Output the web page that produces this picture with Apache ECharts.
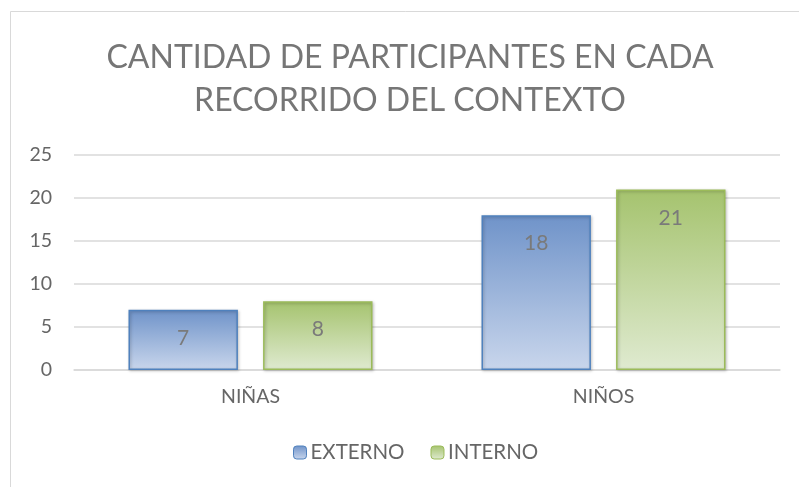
<!DOCTYPE html>
<html>
<head>
<meta charset="utf-8">
<script src="https://cdn.jsdelivr.net/npm/echarts@6/dist/echarts.min.js"></script>
<style>
  html, body { margin: 0; padding: 0; background: #fff; }
  #main { width: 799px; height: 487px; }
</style>
</head>
<body>
<div id="main"></div>
<script>
var categories = ['NIÑAS', 'NIÑOS'];
var externo = [7, 18];
var interno = [8, 21];
var seriesNames = ['EXTERNO', 'INTERNO'];

var dom = document.getElementById('main');
var myChart = echarts.init(dom);
var font = 'Lato, "Open Sans", sans-serif';

// degradado vertical como en la hoja de calculo
function grad(top, bottom) {
    return new echarts.graphic.LinearGradient(0, 0, 0, 1, [
        {offset: 0, color: top},
        {offset: 1, color: bottom}
    ]);
}

var option = {
    backgroundColor: '#fff',
    textStyle: {fontFamily: font},
    graphic: [{
        type: 'rect',
        shape: {x: 10.5, y: 11.5, width: 800, height: 490},
        style: {fill: 'none', stroke: '#d9d9d9', lineWidth: 1},
        silent: true
    }],
    title: {
        text: 'CANTIDAD DE PARTICIPANTES EN CADA\nRECORRIDO DEL CONTEXTO',
        left: 405,
        textAlign: 'center',
        top: 31,
        textStyle: {
            fontFamily: font,
            fontSize: 32,
            fontWeight: 'normal',
            color: '#767676',
            lineHeight: 43
        }
    },
    legend: {
        bottom: 19,
        left: 288,
        itemWidth: 13,
        itemHeight: 13,
        itemGap: 26,
        textStyle: {fontFamily: font, fontSize: 20.5, color: '#666', padding: [0, 0, 0, -1]},
        data: [
            {name: seriesNames[0], itemStyle: {color: grad('#6f93c9', '#c9d6ec'), borderColor: '#4f81bd', borderWidth: 1}},
            {name: seriesNames[1], itemStyle: {color: grad('#a5c36e', '#dfead0'), borderColor: '#9bbb59', borderWidth: 1}}
        ]
    },
    grid: {
        left: 74,
        right: 19,
        top: 155,
        bottom: 117
    },
    xAxis: {
        type: 'category',
        data: categories,
        axisLine: {lineStyle: {color: '#d9d9d9', width: 1.5}},
        axisTick: {show: false},
        axisLabel: {fontFamily: font, fontSize: 19.5, color: '#666', margin: 17}
    },
    yAxis: {
        type: 'value',
        min: 0,
        max: 25,
        interval: 5,
        axisLine: {show: false},
        axisTick: {show: false},
        axisLabel: {fontFamily: font, fontSize: 19.5, color: '#666', margin: 22},
        splitLine: {lineStyle: {color: '#d9d9d9', width: 1.5}}
    },
    series: [
        {
            name: seriesNames[0],
            type: 'bar',
            data: externo,
            barWidth: '31%',
            barGap: '23%',
            itemStyle: {
                color: grad('#6f93c9', '#c9d6ec'),
                borderColor: '#4f81bd',
                borderWidth: 1.5,
                shadowColor: 'rgba(0,0,0,0.25)',
                shadowBlur: 3,
                shadowOffsetX: 1,
                shadowOffsetY: 1
            },
            label: {
                show: true,
                position: 'insideTop',
                distance: 18,
                fontFamily: font,
                fontSize: 21,
                color: '#7a7a7a'
            }
        },
        {
            name: seriesNames[1],
            type: 'bar',
            data: interno,
            barWidth: '31%',
            itemStyle: {
                color: grad('#a5c36e', '#dfead0'),
                borderColor: '#9bbb59',
                borderWidth: 1.5,
                shadowColor: 'rgba(0,0,0,0.25)',
                shadowBlur: 3,
                shadowOffsetX: 1,
                shadowOffsetY: 1
            },
            label: {
                show: true,
                position: 'insideTop',
                distance: 18,
                fontFamily: font,
                fontSize: 21,
                color: '#7a7a7a'
            }
        }
    ]
};
myChart.setOption(option);
</script>
</body>
</html>
